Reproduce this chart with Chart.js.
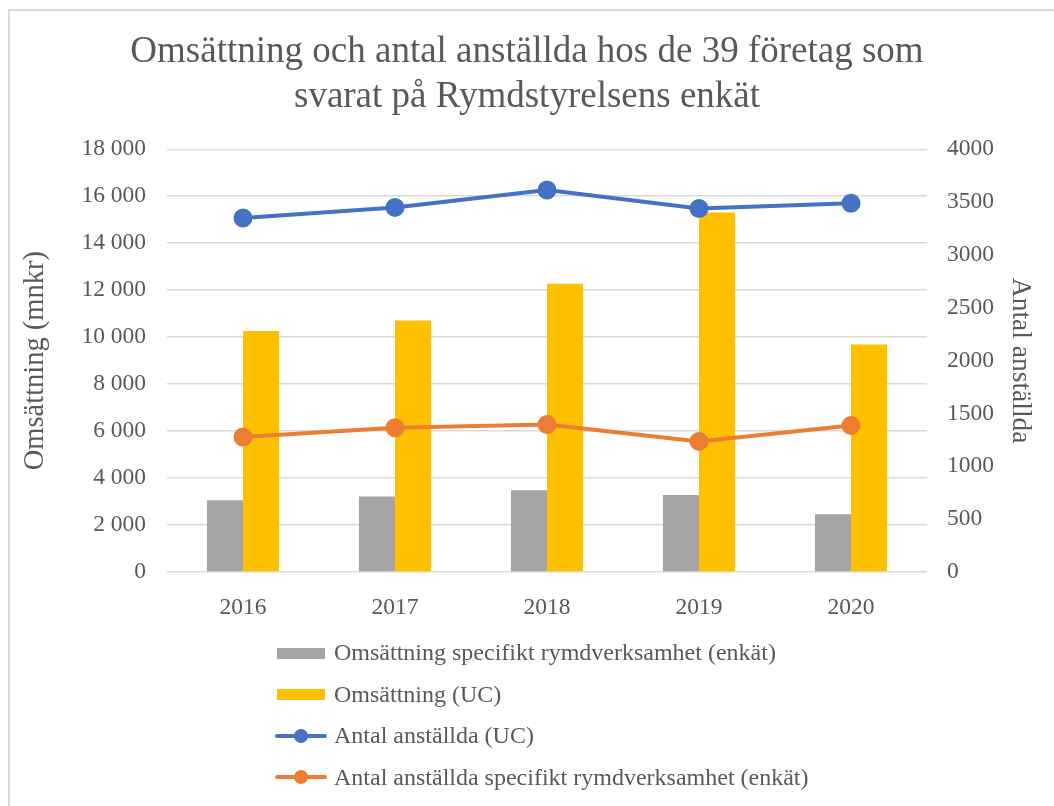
<!DOCTYPE html>
<html lang="sv">
<head>
<meta charset="utf-8">
<title>Omsättning och antal anställda</title>
<script src="https://cdn.jsdelivr.net/npm/chart.js@4.4.1/dist/chart.umd.min.js"></script>
<style>
    html, body { margin: 0; padding: 0; background: #fff; overflow: hidden; }
    .frame { position: absolute; left: 8px; top: 9px; width: 1100px; height: 900px; border: 2px solid #d9d9d9; }
    .wrap { position: absolute; left: 0; top: 0; width: 1054px; height: 806px; }
    #legend { position: absolute; left: 275px; top: 632px; font-family: 'Liberation Serif', serif; font-size: 24px; color: #595959; }
    #legend .row { display: flex; align-items: center; height: 41.5px; white-space: nowrap; }
    #legend .sw { position: relative; width: 54px; height: 16px; margin-right: 5px; }
</style>
</head>
<body>
<div class="frame"></div>
<div class="wrap"><canvas id="chart" width="1054" height="806"></canvas></div>
<div id="legend"></div>
<script>
// data
const years = ['2016', '2017', '2018', '2019', '2020'];
const omsSpecifikt = [3050, 3220, 3480, 3280, 2460];
const omsUC = [10260, 10710, 12270, 15310, 9690];
const anstUC = [3350, 3450, 3615, 3440, 3490];
const anstSpecifikt = [1277, 1365, 1395, 1236, 1387];

const textColor = '#595959';
const gridColor = '#d9d9d9';
const serif = 'Liberation Serif';

// left axis uses a space as thousands separator: "18 000"
function spaced(v) {
    return String(v).replace(/\B(?=(\d{3})+(?!\d))/g, ' ');
}

const ctx = document.getElementById('chart');

const chart = new Chart(ctx, {
    data: {
        labels: years,
        datasets: [
            {
                type: 'line',
                label: 'Antal anställda (UC)',
                data: anstUC,
                yAxisID: 'y2',
                borderColor: '#4472C4',
                backgroundColor: '#4472C4',
                borderWidth: 4,
                pointRadius: 7.5,
                pointHoverRadius: 7.5,
                order: 1,
            },
            {
                type: 'line',
                label: 'Antal anställda specifikt rymdverksamhet (enkät)',
                data: anstSpecifikt,
                yAxisID: 'y2',
                borderColor: '#ED7D31',
                backgroundColor: '#ED7D31',
                borderWidth: 4,
                pointRadius: 7.5,
                pointHoverRadius: 7.5,
                order: 2,
            },
            {
                type: 'bar',
                label: 'Omsättning specifikt rymdverksamhet (enkät)',
                data: omsSpecifikt,
                yAxisID: 'y',
                backgroundColor: '#A5A5A5',
                categoryPercentage: 0.474,
                barPercentage: 1,
                order: 3,
            },
            {
                type: 'bar',
                label: 'Omsättning (UC)',
                data: omsUC,
                yAxisID: 'y',
                backgroundColor: '#FFC000',
                categoryPercentage: 0.474,
                barPercentage: 1,
                order: 4,
            },
        ],
    },
    options: {
        responsive: false,
        animation: false,
        layout: { padding: { left: 0, right: 0, top: 0, bottom: 180 } },
        plugins: {
            legend: { display: false },
            tooltip: { enabled: false },
            title: {
                display: true,
                text: ['Omsättning och antal anställda hos de 39 företag som', 'svarat på Rymdstyrelsens enkät'],
                color: textColor,
                font: { family: serif, size: 37, weight: 'normal', lineHeight: 1.22 },
                padding: { top: 30, bottom: 29 },
            },
        },
        scales: {
            x: {
                offset: true,
                grid: { display: false },
                border: { display: false },
                ticks: { color: textColor, font: { family: serif, size: 23.5 }, padding: 14 },
                afterFit: (scale) => { scale.height = 54; },
            },
            y: {
                position: 'left',
                min: 0,
                max: 18000,
                ticks: {
                    stepSize: 2000,
                    color: textColor,
                    font: { family: serif, size: 23.5 },
                    padding: 21,
                    callback: (v) => spaced(v),
                },
                grid: { color: gridColor, lineWidth: 1.5, drawTicks: false },
                border: { display: false },
                title: {
                    display: true,
                    text: 'Omsättning (mnkr)',
                    color: textColor,
                    font: { family: serif, size: 28.5 },
                    padding: { top: 18, bottom: 0 },
                },
                afterFit: (scale) => { scale.width = 167; },
            },
            y2: {
                position: 'right',
                min: 0,
                max: 4000,
                ticks: {
                    stepSize: 500,
                    color: textColor,
                    font: { family: serif, size: 23.5 },
                    padding: 20,
                    callback: (v) => String(v),
                },
                grid: { display: false, drawTicks: false },
                border: { display: false },
                title: {
                    display: true,
                    text: 'Antal anställda',
                    color: textColor,
                    font: { family: serif, size: 27.5 },
                    padding: { top: 17, bottom: 0 },
                },
                afterFit: (scale) => { scale.width = 127; },
            },
        },
    },
});

// legend as a vertical list, built from the chart's own legend items
const legendOrder = [2, 3, 0, 1];
const items = chart.options.plugins.legend.labels.generateLabels(chart);
const legendEl = document.getElementById('legend');
legendOrder.forEach((idx) => {
    const item = items.find((it) => it.datasetIndex === idx);
    const ds = chart.data.datasets[idx];
    const row = document.createElement('div');
    row.className = 'row';
    const sw = document.createElement('canvas');
    sw.className = 'sw';
    sw.width = 54;
    sw.height = 16;
    const c = sw.getContext('2d');
    if (ds.type === 'bar') {
        c.fillStyle = item.fillStyle;
        c.fillRect(2, 3, 48, 11);
    } else {
        c.strokeStyle = item.strokeStyle;
        c.lineWidth = 4;
        c.lineCap = 'round';
        c.beginPath();
        c.moveTo(2, 8);
        c.lineTo(50, 8);
        c.stroke();
        c.fillStyle = item.strokeStyle;
        c.beginPath();
        c.arc(26, 8, 7, 0, Math.PI * 2);
        c.fill();
    }
    const label = document.createElement('span');
    label.textContent = item.text;
    row.appendChild(sw);
    row.appendChild(label);
    legendEl.appendChild(row);
});
</script>
</body>
</html>
